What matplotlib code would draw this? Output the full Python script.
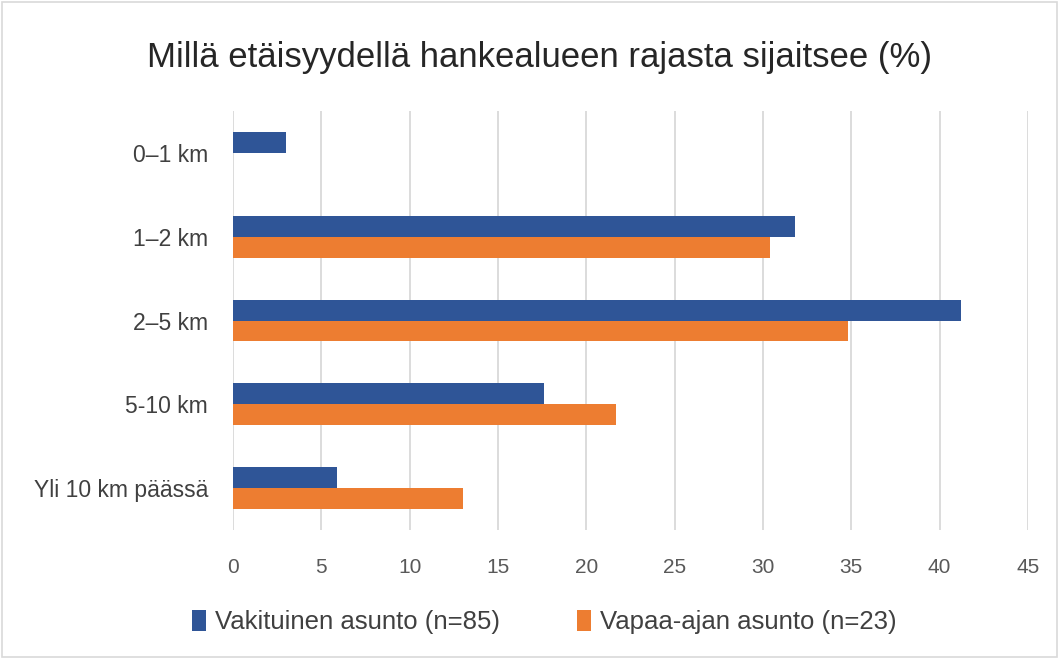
import matplotlib
matplotlib.use("Agg")
import matplotlib.pyplot as plt
import numpy as np
from matplotlib.patches import Rectangle

plt.rcParams['font.family'] = ['Liberation Sans', 'DejaVu Sans']

categories = ["0–1 km", "1–2 km", "2–5 km", "5-10 km", "Yli 10 km päässä"]
vakituinen = [3.0, 31.8, 41.2, 17.6, 5.9]
vapaa_ajan = [0.0, 30.4, 34.8, 21.7, 13.0]
series_labels = ["Vakituinen asunto (n=85)", "Vapaa-ajan asunto (n=23)"]
title = "Millä etäisyydellä hankealueen rajasta sijaitsee (%)"

BLUE = "#2F5597"
ORANGE = "#ED7D31"
GRID = "#D9D9D9"
TEXT = "#595959"

fig = plt.figure(figsize=(10.59, 6.59), dpi=100)
ax = fig.add_axes([233 / 1059, 1 - 530 / 659, (1028 - 233) / 1059, (530 - 111) / 659])

y = np.arange(len(categories))
h = 0.25
ax.barh(y - h / 2, vakituinen, h, color=BLUE, label=series_labels[0], zorder=3)
ax.barh(y + h / 2, vapaa_ajan, h, color=ORANGE, label=series_labels[1], zorder=3)

ax.set_ylim(len(categories) - 0.5, -0.5)
ax.set_xlim(0, 45)
ax.set_xticks(np.arange(0, 46, 5))
ax.set_yticks(y)
ax.set_yticklabels(categories, fontsize=16.5, color="#404040")
ax.tick_params(axis="x", length=0, pad=20, labelsize=15, labelcolor=TEXT)
ax.tick_params(axis="y", length=0, pad=18)
ax.grid(True, axis="x", color=GRID, linewidth=1.3, zorder=0)
for s in ax.spines.values():
    s.set_visible(False)

fig.text(0.509, 1 - 58 / 659, title, ha="center", va="center", fontsize=25, color="#262626")

leg = fig.legend(loc="center", bbox_to_anchor=(0.514, 1 - 622 / 659), ncol=2, frameon=False,
                 fontsize=18.5, handlelength=0.55, handleheight=0.9, handletextpad=0.35,
                 columnspacing=3.0, labelcolor="#404040")

fig.add_artist(Rectangle((2 / 1059, 2 / 659), 1 - 4 / 1059, 1 - 4 / 659, transform=fig.transFigure,
                         fill=False, edgecolor=GRID, linewidth=1.2))

fig.savefig("out.png", dpi=100)
